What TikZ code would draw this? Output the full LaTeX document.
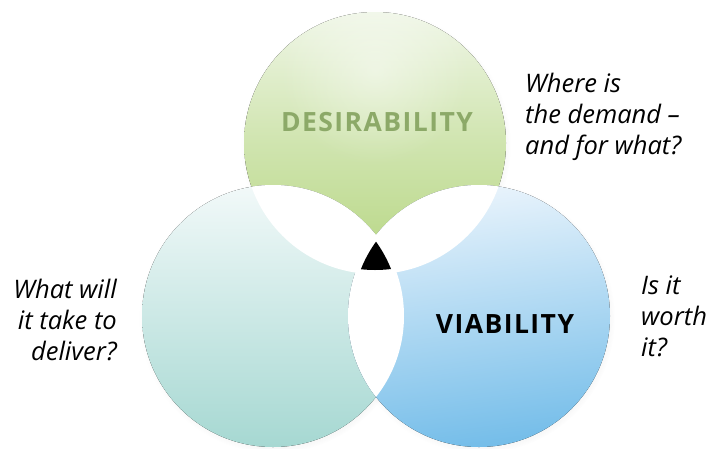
\documentclass[tikz,border=0pt]{standalone}
\usepackage{fontspec}
\setmainfont{Open Sans}
\newfontfamily\titlefont[LetterSpace=5.5]{Open Sans}
\usetikzlibrary{positioning,shadows,fadings}

\definecolor{desireTop}{HTML}{EFF6E6}
\definecolor{desireBottom}{HTML}{B6D682}
\definecolor{desireText}{HTML}{8CA968}
\definecolor{feasTop}{HTML}{F2F9F9}
\definecolor{feasBottom}{HTML}{A6D8D2}
\definecolor{viaTop}{HTML}{EAF4FC}
\definecolor{viaBottom}{HTML}{74BDE9}

\tikzfading[name=glowfade, inner color=transparent!0, outer color=transparent!100]

\begin{document}
\begin{tikzpicture}[x=1pt, y=-1pt,
    question/.style = {font=\itshape\fontsize{25.5}{31}\selectfont, inner sep=0pt},
    title/.style = {font=\titlefont\bfseries\fontsize{26.5}{30}\selectfont, inner sep=0pt},
    halo/.style = {circular drop shadow={opacity=0.18, shadow xshift=1pt, shadow yshift=-2pt, shadow scale=1.03}}]
    \useasboundingbox (0,0) rectangle (713,448);

    \coordinate (T) at (375,143);
    \coordinate (L) at (273,316);
    \coordinate (R) at (479,316);

    % shadows first, then the three circles
    \fill[halo, white] (T) circle[radius=131pt];
    \fill[halo, white] (L) circle[radius=131pt];
    \fill[halo, white] (R) circle[radius=131pt];

    \fill[top color=desireTop, bottom color=desireBottom, middle color=desireBottom!55!desireTop] (T) circle[radius=131pt];
    \begin{scope}
        \clip (T) circle[radius=131pt];
        \fill[white, opacity=0.45, path fading=glowfade] (375,70) circle[radius=95pt];
    \end{scope}
    \fill[top color=feasTop, bottom color=feasBottom] (L) circle[radius=131pt];
    \fill[top color=viaTop, bottom color=viaBottom, shading angle=8] (R) circle[radius=131pt];

    % overlaps are white
    \begin{scope}
        \clip (T) circle[radius=131pt];
        \fill[white] (L) circle[radius=131pt];
        \fill[white] (R) circle[radius=131pt];
    \end{scope}
    \begin{scope}
        \clip (L) circle[radius=131pt];
        \fill[white] (R) circle[radius=131pt];
    \end{scope}

    % centre
    \begin{scope}
        \clip (T) circle[radius=127pt];
        \clip (L) circle[radius=127pt];
        \fill[black] (R) circle[radius=127pt];
    \end{scope}

    \node[title, text=desireText] (desire) at (377,122) {DESIRABILITY};
    \node[title] (viable) at (505,324) {VIABILITY};

    \node[question, align=right, anchor=north east] (deliver) at (117,279) {What will\\it take to\\deliver?};
    \node[question, align=left, anchor=north west] (demand) at (525,73) {Where is\\the demand --\\and for what?};
    \node[question, align=left, anchor=north west] (worth) at (641,276) {Is it\\worth\\it?};
\end{tikzpicture}
\end{document}
